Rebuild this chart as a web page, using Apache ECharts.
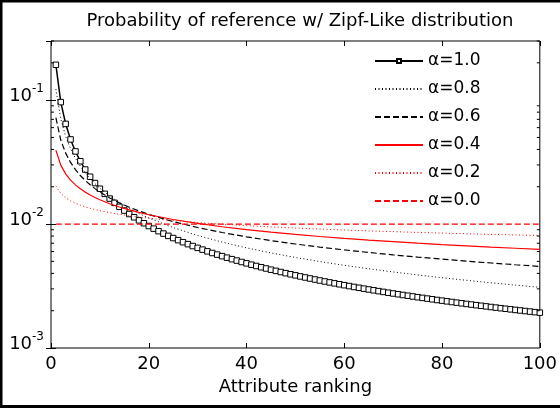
<!DOCTYPE html>
<html>
<head>
<meta charset="utf-8">
<script src="https://cdn.jsdelivr.net/npm/echarts@6/dist/echarts.min.js"></script>
<style>
html,body{margin:0;padding:0;background:#fff;}
#chart{width:560px;height:409px;}
</style>
</head>
<body>
<div id="chart"></div>
<script>
// Attribute ranking (x) for the alpha = 1.0 series (one marker per rank)
const ranks = [1,2,3,4,5,6,7,8,9,10,11,12,13,14,15,16,17,18,19,20,21,22,23,24,25,26,27,28,29,30,
  31,32,33,34,35,36,37,38,39,40,41,42,43,44,45,46,47,48,49,50,51,52,53,54,55,56,57,58,59,60,
  61,62,63,64,65,66,67,68,69,70,71,72,73,74,75,76,77,78,79,80,81,82,83,84,85,86,87,88,89,90,
  91,92,93,94,95,96,97,98,99,100];
const p10 = [0.1928,0.09639,0.06426,0.04819,0.03856,0.03213,0.02754,0.02410,0.02142,0.01928,
  0.01753,0.01606,0.01483,0.01377,0.01285,0.01205,0.01134,0.01071,0.01015,0.009639,
  0.009180,0.008763,0.008382,0.008032,0.007711,0.007414,0.007140,0.006885,0.006647,0.006426,
  0.006219,0.006024,0.005842,0.005670,0.005508,0.005355,0.005210,0.005073,0.004943,0.004819,
  0.004702,0.004590,0.004483,0.004381,0.004284,0.004191,0.004102,0.004016,0.003934,0.003856,
  0.003780,0.003707,0.003637,0.003570,0.003505,0.003442,0.003382,0.003324,0.003267,0.003213,
  0.003160,0.003109,0.003060,0.003012,0.002966,0.002921,0.002877,0.002835,0.002794,0.002754,
  0.002715,0.002677,0.002641,0.002605,0.002570,0.002537,0.002504,0.002472,0.002440,0.002410,
  0.002380,0.002351,0.002323,0.002295,0.002268,0.002242,0.002216,0.002191,0.002166,0.002142,
  0.002118,0.002095,0.002073,0.002051,0.002029,0.002008,0.001987,0.001967,0.001947,0.001928];

// Rankings at which the other curves were read
const xs = [1,2,3,4,5,6,7,8,9,10,12,14,16,18,20,25,30,35,40,45,50,55,60,65,70,75,80,85,90,95,100];
const p08 = [0.12293,0.070607,0.051048,0.040553,0.033923,0.029319,0.025918,0.023292,0.021197,0.019484,
  0.016839,0.014886,0.013378,0.012175,0.011190,0.009361,0.008091,0.007152,0.006427,0.005849,0.005376,
  0.004982,0.004647,0.004358,0.004108,0.003887,0.003691,0.003517,0.003360,0.003217,0.003088];
const p06 = [0.072194,0.047630,0.037345,0.031424,0.027487,0.024638,0.022462,0.020732,0.019318,0.018134,
  0.016255,0.014819,0.013678,0.012745,0.011964,0.010465,0.009381,0.008552,0.007893,0.007355,0.006904,
  0.006521,0.006189,0.005899,0.005642,0.005413,0.005208,0.005022,0.004852,0.004698,0.004555];
const p04 = [0.039433,0.029885,0.025410,0.022648,0.020714,0.019258,0.018106,0.017164,0.016374,0.015699,
  0.014594,0.013722,0.013008,0.012409,0.011897,0.010881,0.010116,0.009511,0.009016,0.008602,0.008247,
  0.007938,0.007667,0.007425,0.007208,0.007012,0.006833,0.006670,0.006519,0.006379,0.006250];
const p02 = [0.020313,0.017684,0.016306,0.015394,0.014722,0.014195,0.013764,0.013402,0.013090,0.012817,
  0.012358,0.011983,0.011667,0.011395,0.011158,0.010671,0.010289,0.009976,0.009713,0.009487,0.009289,
  0.009114,0.008957,0.008814,0.008685,0.008566,0.008456,0.008354,0.008259,0.008170,0.008087];
const p00 = [0.01,0.01,0.01,0.01,0.01,0.01,0.01,0.01,0.01,0.01,0.01,0.01,0.01,0.01,0.01,0.01,
  0.01,0.01,0.01,0.01,0.01,0.01,0.01,0.01,0.01,0.01,0.01,0.01,0.01,0.01,0.01];

const seriesNames = ['\u03b1=1.0','\u03b1=0.8','\u03b1=0.6','\u03b1=0.4','\u03b1=0.2','\u03b1=0.0'];
const yMinorTicks = [0.002,0.003,0.004,0.005,0.006,0.007,0.008,0.009,
  0.02,0.03,0.04,0.05,0.06,0.07,0.08,0.09,0.2,0.3];
const titleText = 'Probability of reference w/ Zipf-Like distribution';
const xName = 'Attribute ranking';

const FONT = 'DejaVu Sans';
const X_MIN = 0, X_MAX = 100, Y_MIN = 0.001, Y_MAX = 0.3;
const DOT = [1, 2.5], DASH = [6, 3];

function pairs(x, y){ return x.map((v,i)=>[v, y[i]]); }

const chart = echarts.init(document.getElementById('chart'), null, {renderer:'canvas'});

const yLabel = {
  margin: 7,
  showMaxLabel: false,
  formatter: function(v){
    const e = Math.round(Math.log10(v));
    return '{b|10}{s|' + e + '}';
  },
  padding: [0,0,12,0],
  rich: {
    b: {fontSize: 18, fontFamily: FONT, color:'#000', verticalAlign:'bottom'},
    s: {fontSize: 12, fontFamily: FONT, color:'#000', verticalAlign:'bottom', padding:[0,0,11,0]}
  }
};

const legendData = seriesNames.map((n, i) => i === 0 ? {name:n} : {name:n, itemStyle:{opacity:0}});

const option = {
  animation: false,
  backgroundColor: '#fff',
  textStyle: {fontFamily: FONT, color:'#000'},
  title: {
    text: titleText,
    left: 295, top: 7, textAlign: 'center',
    textStyle: {fontSize: 18, fontWeight: 'normal', color:'#000', fontFamily: FONT}
  },
  legend: {
    data: legendData,
    orient: 'vertical',
    left: 374, top: 51, padding: 0,
    itemWidth: 48, itemHeight: 5, itemGap: 8,
    textStyle: {fontSize: 17, lineHeight: 20, color:'#000', fontFamily: FONT},
    selectedMode: false
  },
  grid: {left: 51, right: 20, top: 41, bottom: 61, show: true, borderColor:'#000', borderWidth: 1},
  xAxis: [{
    type:'value', min:X_MIN, max:X_MAX, interval:20, position:'bottom',
    name: xName, nameLocation:'middle', nameGap: 27,
    nameTextStyle: {fontSize: 18, color:'#000', fontFamily: FONT},
    axisLine:{show:false}, splitLine:{show:false},
    axisTick:{show:true, inside:true, length:5, lineStyle:{color:'#000'}},
    axisLabel:{fontSize:18, color:'#000', margin:7, fontFamily: FONT}
  },{
    type:'value', min:X_MIN, max:X_MAX, interval:20, position:'top',
    axisLine:{show:false}, splitLine:{show:false},
    axisTick:{show:true, inside:true, length:5, lineStyle:{color:'#000'}},
    axisLabel:{show:false}
  }],
  yAxis: [{
    type:'log', logBase:10, min:Y_MIN, max:Y_MAX, position:'left',
    axisLine:{show:false}, splitLine:{show:false},
    axisTick:{show:true, inside:true, length:5, lineStyle:{color:'#000'}},
    axisLabel: yLabel
  },{
    type:'log', logBase:10, min:Y_MIN, max:Y_MAX, position:'right',
    axisLine:{show:false}, splitLine:{show:false},
    axisTick:{show:true, inside:true, length:5, lineStyle:{color:'#000'}},
    axisLabel:{show:false}
  }],
  graphic: [{
    type:'rect', silent:true, z:100,
    shape:{x:1, y:1, width:620, height:405.5},
    style:{fill:'none', stroke:'#000', lineWidth:3}
  }],
  series: [
    {
      name: seriesNames[0], type:'line', data: pairs(ranks, p10),
      symbol:'rect', symbolSize:5.5, showSymbol:true,
      lineStyle:{color:'#000', width:1.5, type:'solid'},
      itemStyle:{color:'#fff', borderColor:'#000', borderWidth:1},
      z: 2
    },
    {
      name: seriesNames[1], type:'line', data: pairs(xs, p08), symbol:'none',
      lineStyle:{color:'#000', width:1, type:DOT}, itemStyle:{color:'#000'}, z:3
    },
    {
      name: seriesNames[2], type:'line', data: pairs(xs, p06), symbol:'none',
      lineStyle:{color:'#000', width:1.2, type:DASH}, itemStyle:{color:'#000'}, z:3
    },
    {
      name: seriesNames[3], type:'line', data: pairs(xs, p04), symbol:'none',
      lineStyle:{color:'#ff0000', width:1.2, type:'solid'}, itemStyle:{color:'#ff0000'}, z:3
    },
    {
      name: seriesNames[4], type:'line', data: pairs(xs, p02), symbol:'none',
      lineStyle:{color:'#ff0000', width:1, type:DOT}, itemStyle:{color:'#ff0000'}, z:3
    },
    {
      name: seriesNames[5], type:'line', data: pairs(xs, p00), symbol:'none',
      lineStyle:{color:'#ff0000', width:1.2, type:DASH}, itemStyle:{color:'#ff0000'}, z:3
    },
    {
      name: 'minorTicks', type:'custom', silent:true, clip:false,
      data: yMinorTicks.map(v => [X_MIN, v]),
      renderItem: function(params, api){
        const v = api.value(1);
        const pl = api.coord([X_MIN, v]);
        const pr = api.coord([X_MAX, v]);
        return {type:'group', children:[
          {type:'line', shape:{x1:pl[0], y1:pl[1], x2:pl[0]+3, y2:pl[1]}, style:{stroke:'#000', lineWidth:1}},
          {type:'line', shape:{x1:pr[0], y1:pr[1], x2:pr[0]-3, y2:pr[1]}, style:{stroke:'#000', lineWidth:1}}
        ]};
      },
      z: 5
    }
  ]
};
chart.setOption(option);
</script>
</body>
</html>
